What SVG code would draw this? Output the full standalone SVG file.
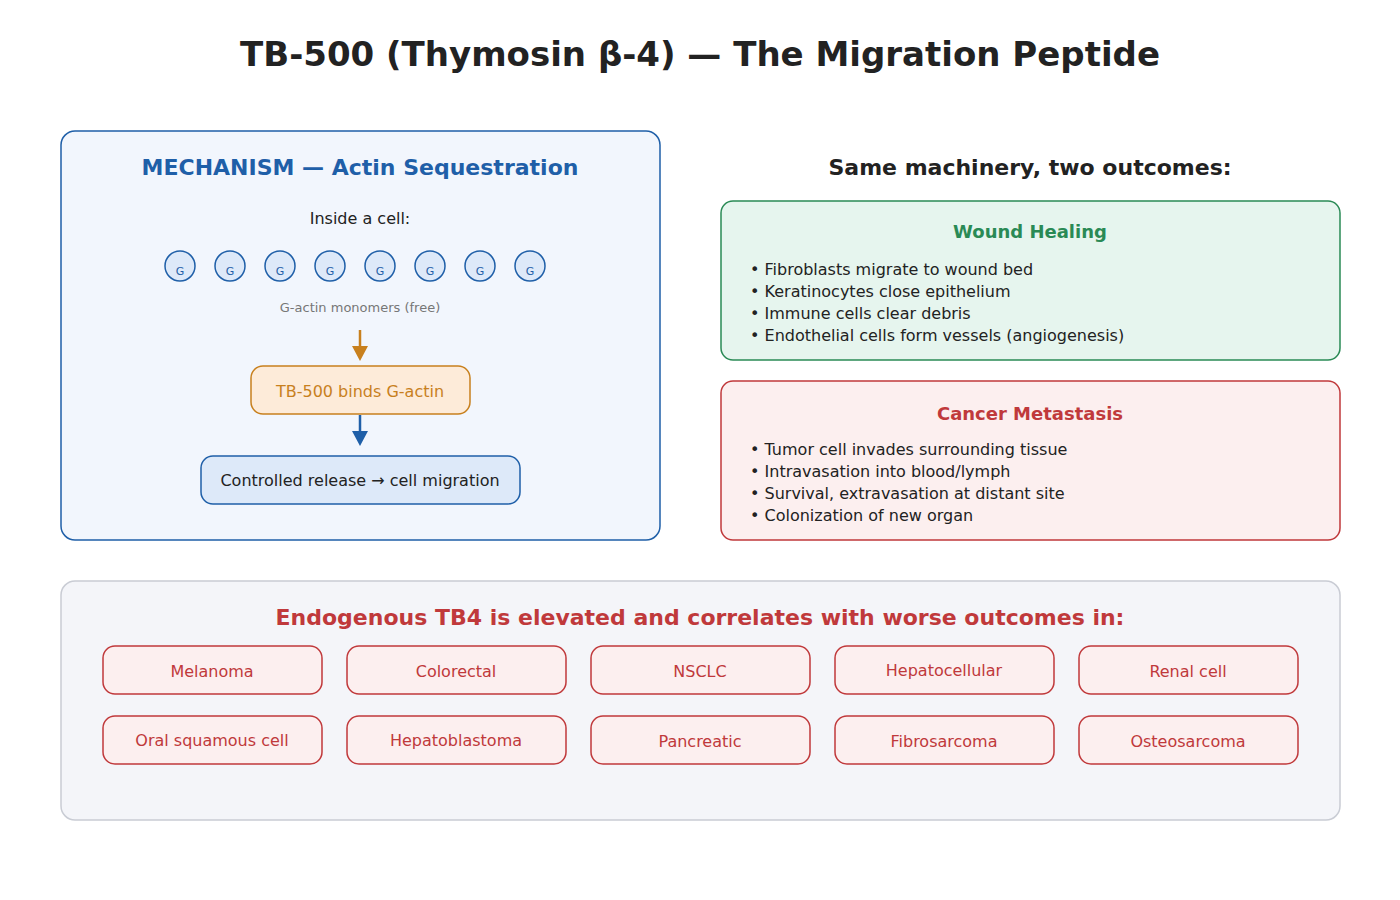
<svg xmlns="http://www.w3.org/2000/svg" width="1400" height="900" viewBox="0 0 1400 900">
<style>
text{font-family:"DejaVu Sans",sans-serif;}
.c{text-anchor:middle}
.g circle{fill:#dde9f9;stroke:#1f5fa8;stroke-width:1.5}
.g text{fill:#1f5fa8;font-size:11px}
.chip rect{fill:#fcefef;stroke:#c0393b;stroke-width:1.5}
.chip text{fill:#c0393b;font-size:16px}
.li{font-size:16px;fill:#222}
</style>
<rect width="1400" height="900" fill="#fff"/>
<text class="c" x="700" y="66" font-size="34" font-weight="bold" fill="#222">TB-500 (Thymosin β-4) — The Migration Peptide</text>
<g id="mechanism">
<rect x="61" y="131" width="599" height="409" rx="14" fill="#f2f6fd" stroke="#1f5fa8" stroke-width="1.5"/>
<text class="c" x="360" y="175" font-size="22" font-weight="bold" fill="#1f5fa8">MECHANISM — Actin Sequestration</text>
<text class="c" x="360" y="224" font-size="16" fill="#222">Inside a cell:</text>
<g class="g">
<circle cx="180" cy="266" r="15"/><circle cx="230" cy="266" r="15"/><circle cx="280" cy="266" r="15"/><circle cx="330" cy="266" r="15"/><circle cx="380" cy="266" r="15"/><circle cx="430" cy="266" r="15"/><circle cx="480" cy="266" r="15"/><circle cx="530" cy="266" r="15"/>
<text class="c" x="180" y="275">G</text><text class="c" x="230" y="275">G</text><text class="c" x="280" y="275">G</text><text class="c" x="330" y="275">G</text><text class="c" x="380" y="275">G</text><text class="c" x="430" y="275">G</text><text class="c" x="480" y="275">G</text><text class="c" x="530" y="275">G</text>
</g>
<text class="c" x="360" y="312" font-size="13" fill="#777">G-actin monomers (free)</text>
</g>
<g id="binds">
<rect x="251" y="366" width="219" height="48" rx="12" fill="#fdebd9" stroke="#c8801e" stroke-width="1.5"/>
<text class="c" x="360" y="397" font-size="16" fill="#c8801e">TB-500 binds G-actin</text>
</g>
<g id="release">
<rect x="201" y="456" width="319" height="48" rx="12" fill="#dde9f9" stroke="#1f5fa8" stroke-width="1.5"/>
<text class="c" x="360" y="486" font-size="16" fill="#222">Controlled release → cell migration</text>
</g>
<g id="connectors">
<line x1="360" y1="330" x2="360" y2="348" stroke="#c8801e" stroke-width="2.5"/>
<path d="M352,346 L368,346 L360,361 z" fill="#c8801e"/>
<line x1="360" y1="415" x2="360" y2="433" stroke="#1f5fa8" stroke-width="2.5"/>
<path d="M352,431 L368,431 L360,446 z" fill="#1f5fa8"/>
</g>
<text class="c" x="1030" y="175" font-size="22" font-weight="bold" fill="#222">Same machinery, two outcomes:</text>
<g id="wound">
<rect x="721" y="201" width="619" height="159" rx="12" fill="#e6f5ee" stroke="#2a8a55" stroke-width="1.5"/>
<text class="c" x="1030" y="238" font-size="18" font-weight="bold" fill="#2a8a55">Wound Healing</text>
<text class="li" x="750" y="275">• Fibroblasts migrate to wound bed</text>
<text class="li" x="750" y="297">• Keratinocytes close epithelium</text>
<text class="li" x="750" y="319">• Immune cells clear debris</text>
<text class="li" x="750" y="341">• Endothelial cells form vessels (angiogenesis)</text>
</g>
<g id="cancer">
<rect x="721" y="381" width="619" height="159" rx="12" fill="#fcefef" stroke="#c0393b" stroke-width="1.5"/>
<text class="c" x="1030" y="420" font-size="18" font-weight="bold" fill="#c0393b">Cancer Metastasis</text>
<text class="li" x="750" y="455">• Tumor cell invades surrounding tissue</text>
<text class="li" x="750" y="477">• Intravasation into blood/lymph</text>
<text class="li" x="750" y="499">• Survival, extravasation at distant site</text>
<text class="li" x="750" y="521">• Colonization of new organ</text>
</g>
<g id="cancers">
<rect x="61" y="581" width="1279" height="239" rx="14" fill="#f4f5f9" stroke="#c9ccd4" stroke-width="1.5"/>
<text class="c" x="700" y="625" font-size="22" font-weight="bold" fill="#c0393b">Endogenous TB4 is elevated and correlates with worse outcomes in:</text>
</g>
<g id="c1" class="chip"><rect x="103" y="646" width="219" height="48" rx="12"/><text class="c" x="212" y="677">Melanoma</text></g>
<g id="c2" class="chip"><rect x="347" y="646" width="219" height="48" rx="12"/><text class="c" x="456" y="677">Colorectal</text></g>
<g id="c3" class="chip"><rect x="591" y="646" width="219" height="48" rx="12"/><text class="c" x="700" y="677">NSCLC</text></g>
<g id="c4" class="chip"><rect x="835" y="646" width="219" height="48" rx="12"/><text class="c" x="944" y="676">Hepatocellular</text></g>
<g id="c5" class="chip"><rect x="1079" y="646" width="219" height="48" rx="12"/><text class="c" x="1188" y="677">Renal cell</text></g>
<g id="c6" class="chip"><rect x="103" y="716" width="219" height="48" rx="12"/><text class="c" x="212" y="746">Oral squamous cell</text></g>
<g id="c7" class="chip"><rect x="347" y="716" width="219" height="48" rx="12"/><text class="c" x="456" y="746">Hepatoblastoma</text></g>
<g id="c8" class="chip"><rect x="591" y="716" width="219" height="48" rx="12"/><text class="c" x="700" y="747">Pancreatic</text></g>
<g id="c9" class="chip"><rect x="835" y="716" width="219" height="48" rx="12"/><text class="c" x="944" y="747">Fibrosarcoma</text></g>
<g id="c10" class="chip"><rect x="1079" y="716" width="219" height="48" rx="12"/><text class="c" x="1188" y="747">Osteosarcoma</text></g>
</svg>
